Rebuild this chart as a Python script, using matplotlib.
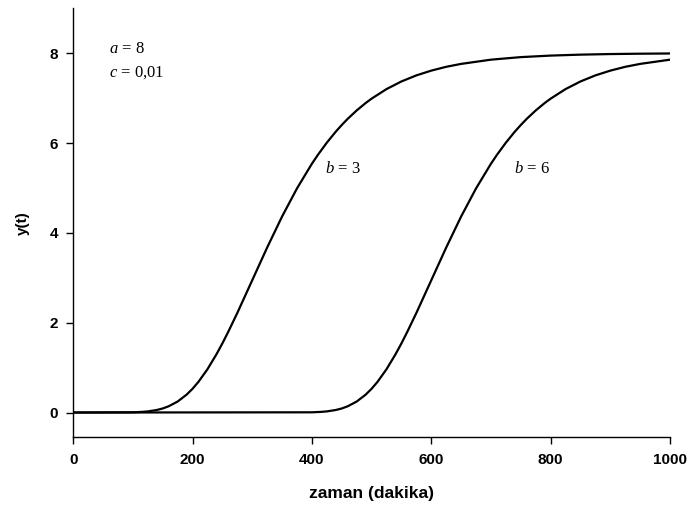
import matplotlib
matplotlib.use("Agg")
import matplotlib.pyplot as plt

# values (y(t), t in minutes)
t_b3 = [0, 100, 115, 125, 140, 150, 160, 175, 190, 200, 210, 225, 240, 250,
        260, 275, 300, 325, 350, 375, 400, 410, 425, 440, 450, 460, 475, 490,
        500, 525, 550, 575, 600, 625, 650, 700, 750, 800, 850, 900, 950, 1000]
y_b3 = [0.0, 0.005, 0.014, 0.025, 0.056, 0.09, 0.139, 0.244, 0.397, 0.528,
        0.684, 0.963, 1.294, 1.538, 1.800, 2.215, 2.943, 3.671, 4.362, 4.988,
        5.538, 5.735, 6.007, 6.252, 6.400, 6.538, 6.724, 6.889, 6.987, 7.200,
        7.370, 7.505, 7.611, 7.696, 7.761, 7.855, 7.912, 7.946, 7.967, 7.980,
        7.988, 7.993]

t_b6 = [0, 400, 415, 425, 440, 450, 460, 475, 490, 500, 510, 525, 540, 550,
        560, 575, 600, 625, 650, 675, 700, 710, 725, 740, 750, 760, 775, 790,
        800, 825, 850, 875, 900, 925, 950, 1000]
y_b6 = [0.0, 0.005, 0.014, 0.025, 0.056, 0.09, 0.139, 0.244, 0.397, 0.528,
        0.684, 0.963, 1.294, 1.538, 1.800, 2.215, 2.943, 3.671, 4.362, 4.988,
        5.538, 5.735, 6.007, 6.252, 6.400, 6.538, 6.724, 6.889, 6.987, 7.200,
        7.370, 7.505, 7.611, 7.696, 7.761, 7.855]

x_ticks = [0, 200, 400, 600, 800, 1000]
y_ticks = [0, 2, 4, 6, 8]

plt.rcParams["mathtext.fontset"] = "custom"
plt.rcParams["mathtext.it"] = "Liberation Serif:italic"
plt.rcParams["mathtext.rm"] = "Liberation Serif"

fig = plt.figure(figsize=(6.9, 5.15), dpi=100)
ax = fig.add_axes([0.106, 0.151, 0.865, 0.833])

ax.plot(t_b3, y_b3, color="black", linewidth=1.6)
ax.plot(t_b6, y_b6, color="black", linewidth=1.6)

ax.set_xlim(0, 1000)
ax.set_ylim(-0.55, 9.0)
ax.set_xticks(x_ticks)
ax.set_yticks(y_ticks)
for s in ("top", "right"):
    ax.spines[s].set_visible(False)
for s in ("left", "bottom"):
    ax.spines[s].set_linewidth(1.0)
ax.tick_params(direction="out", length=5, width=1, pad=6)
for lab in ax.get_xticklabels() + ax.get_yticklabels():
    lab.set_fontfamily("Liberation Sans")
    lab.set_fontweight("bold")
    lab.set_fontsize(11)

ax.set_xlabel("zaman (dakika)", fontfamily="Liberation Sans", fontweight="bold",
              fontsize=12.5, labelpad=14)
ax.set_ylabel("y(t)", fontfamily="Liberation Sans", fontweight="bold",
              fontsize=11, labelpad=14)

txt = dict(fontfamily="Liberation Serif", fontsize=12, va="center", ha="left")
ax.text(60, 8.09, r"$a$ = 8", **txt)
ax.text(60, 7.56, r"$c$ = 0,01", **txt)
ax.text(422, 5.42, r"$b$ = 3", **txt)
ax.text(739, 5.42, r"$b$ = 6", **txt)

fig.savefig("out.png", dpi=100)
